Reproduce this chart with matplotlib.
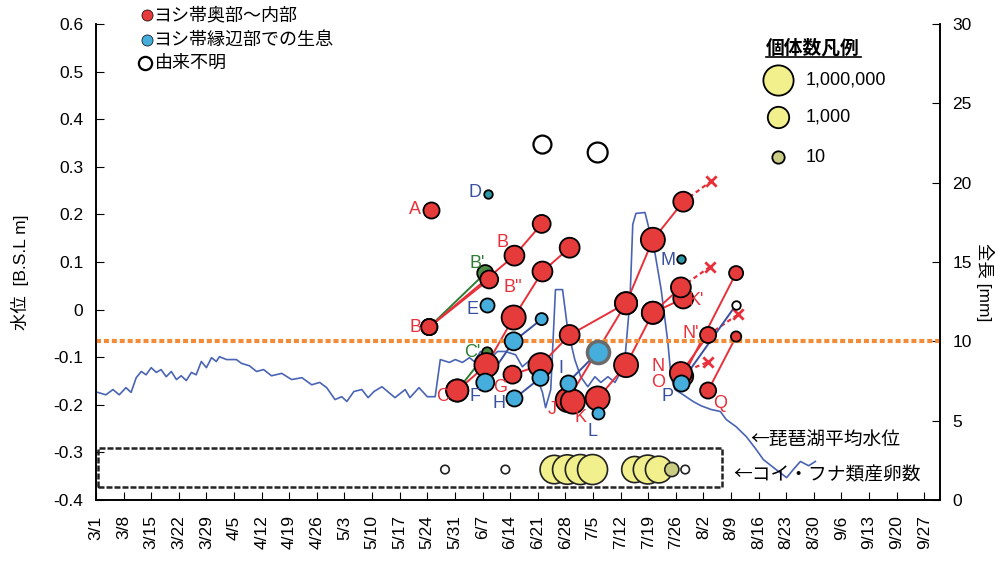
import matplotlib.pyplot as plt
import numpy as np
from matplotlib.patches import Rectangle
from matplotlib.lines import Line2D

plt.rcParams['font.family'] = ['Liberation Sans', 'Noto Sans CJK JP', 'DejaVu Sans']
JP = ['Noto Sans CJK JP', 'DejaVu Sans']

# 日付は 3/1 からの経過日数
week_labels = ['3/1', '3/8', '3/15', '3/22', '3/29', '4/5', '4/12', '4/19', '4/26',
               '5/3', '5/10', '5/17', '5/24', '5/31', '6/7', '6/14', '6/21', '6/28',
               '7/5', '7/12', '7/19', '7/26', '8/2', '8/9', '8/16', '8/23', '8/30',
               '9/6', '9/13', '9/20', '9/27']
week_days = [7 * i for i in range(len(week_labels))]

# 琵琶湖平均水位 [B.S.L m]
level_days = [0.5, 2.5, 4.3, 5.9, 7.6, 8.9, 10.2, 11.5, 12.7, 14.0, 15.3, 16.5, 17.8,
              19.1, 20.4, 21.6, 22.9, 24.2, 25.4, 26.7, 28.0, 29.3, 30.5, 31.3, 33.1,
              35.6, 36.9, 38.9, 40.7, 42.5, 44.5, 47.1, 49.6, 52.2, 54.7, 56.7, 58.5,
              60.6, 62.3, 63.6, 65.4, 67.4, 69.0, 70.5, 72.5, 75.8, 78.4, 79.6, 81.9,
              84.0, 86.0, 87.3, 89.6, 91.1, 92.9, 94.7, 95.9, 97.5, 99.7, 101.8, 103.8,
              106.4, 108.1, 110.2, 112.0, 113.2, 114.0, 115.3, 116.5, 118.3, 119.6,
              121.4, 122.9, 124.7, 126.5, 128.0, 129.8, 131.6, 133.1, 134.1, 135.4,
              136.1, 136.9, 139.2, 141.7, 143.3, 145.0, 145.8, 146.8, 148.9, 151.4,
              153.4, 156.0, 158.3, 159.8, 162.3, 164.9, 167.4, 169.2, 171.8, 175.1,
              176.8, 178.6, 180.7, 182.4]
level_values = [-0.174, -0.179, -0.168, -0.179, -0.164, -0.174, -0.143, -0.130, -0.137,
                -0.122, -0.132, -0.126, -0.141, -0.130, -0.147, -0.139, -0.149, -0.132,
                -0.137, -0.109, -0.122, -0.101, -0.109, -0.099, -0.105, -0.105, -0.113,
                -0.118, -0.130, -0.126, -0.139, -0.134, -0.147, -0.143, -0.158, -0.153,
                -0.164, -0.189, -0.183, -0.193, -0.172, -0.168, -0.185, -0.172, -0.162,
                -0.185, -0.168, -0.185, -0.164, -0.183, -0.183, -0.105, -0.111, -0.105,
                -0.111, -0.101, -0.109, -0.088, -0.105, -0.088, -0.088, -0.095, -0.120,
                -0.105, -0.147, -0.174, -0.206, -0.168, 0.042, 0.042, -0.042, -0.105,
                -0.141, -0.162, -0.141, -0.153, -0.141, -0.153, -0.130, -0.105, 0.021,
                0.179, 0.202, 0.204, 0.120, 0.042, -0.069, -0.141, -0.168, -0.179,
                -0.193, -0.202, -0.210, -0.214, -0.231, -0.246, -0.267, -0.294, -0.315,
                -0.332, -0.353, -0.336, -0.319, -0.328, -0.319]

# 全長 [mm] と個体数 ── ヨシ帯奥部～内部
A_days, A_len, A_n = [85.0], [18.3], [50]
B_days, B_len, B_n = [84.5, 106.1, 113.0], [10.9, 15.4, 17.4], [50, 400, 130]
B2_days, B2_len, B2_n = [84.5, 99.7], [10.9, 13.9], [50, 130]
C_days = [91.6, 99.0, 105.9, 113.2, 120.1]
C_len = [6.9, 8.5, 11.5, 14.4, 15.9]
C_n = [1600, 6300, 6300, 400, 400]
G_days = [105.6, 112.7, 120.1, 134.4, 141.2, 148.9]
G_len = [7.9, 8.5, 10.4, 12.4, 16.4, 18.8]
G_n = [130, 6300, 400, 1600, 6300, 400]
J_days, J_len, J_n = [119.6, 134.4], [6.3, 12.4], [6300, 1600]
K_days = [120.9, 127.2, 134.4, 141.2, 148.3]
K_len = [6.2, 6.4, 8.5, 11.8, 13.4]
K_n = [6300, 6300, 6300, 1600, 400]
K1_days, K1_len, K1_n = [141.2, 148.9], [11.8, 12.7], [1600, 400]
N_days, N_len, N_n = [148.3, 155.2], [8.0, 10.4], [1600, 50]
O_days, O_len, O_n = [148.9, 162.3], [7.8, 14.3], [400, 20]
Q_days, Q_len, Q_n = [155.2, 162.3], [6.9, 10.3], [50, 5]

# ヨシ帯縁辺部での生息
D_days, D_len, D_n = [99.5], [19.3], [3]
E_days, E_len, E_n = [99.2], [12.3], [20]
F_days, F_len, F_n = [98.7, 105.9, 113.0], [7.4, 10.0, 11.4], [130, 130, 9]
H_days, H_len, H_n = [106.1, 112.7], [6.4, 7.7], [50, 50]
I_days, I_len, I_n = [119.6, 127.2], [7.4, 9.3], [50, 1600]
L_days, L_len, L_n = [127.2], [5.5], [9]
M_days, M_len, M_n = [148.3], [15.2], [3]
P_days, P_len, P_n = [148.3, 162.3], [7.4, 12.3], [50, 3]

# B', C' (緑)
B1_days, B1_len, B1_n = [84.5, 98.7], [10.9, 14.3], [50, 50]
C1_days, C1_len, C1_n = [91.6, 99.2], [6.9, 9.3], [1600, 5]

# 由来不明
unk_days, unk_len, unk_n = [113.2, 127.2], [22.4, 21.9], [130, 400]

# 消失 (×)
lost_from_days = [148.9, 148.3, 155.2, 148.3]
lost_from_len = [18.8, 13.4, 10.4, 8.0]
lost_days = [156.0, 155.7, 162.8, 155.2]
lost_len = [20.1, 14.7, 11.7, 8.7]

# コイ・フナ類産卵数
egg_days = [88.5, 103.8, 116.2, 119.5, 122.8, 125.9, 136.6, 139.9, 142.7, 146.0, 149.4]
egg_counts = [3, 3, 2e5, 5e5, 8e5, 8e5, 3e4, 3e5, 5e4, 20, 3]
egg_level = -0.336

legend_counts = [1e6, 1e3, 10]
legend_texts = ['1,000,000', '1,000', '10']

RED = '#E63B3B'
BLUE = '#45AEDC'
TEAL = '#2E98A6'
GREEN = '#4F8A45'
LRED = '#E8303A'
LBLUE = '#3A50A0'
LGREEN = '#2E7D32'


def area(n):
    return 79 * np.log10(np.asarray(n, dtype=float))


def egg_color(n):
    if n >= 1000:
        return '#F2F08C'
    if n >= 10:
        return '#C9CC82'
    return 'white'


fig = plt.figure(figsize=(10.03, 5.63), dpi=100)
ax = fig.add_axes([0.0957, 0.1119, 0.8415, 0.8455])
ax2 = ax.twinx()

ax.set_xlim(0, 214)
ax.set_ylim(-0.4, 0.6)
ax2.set_ylim(0, 30)
ax.set_yticks(np.arange(-0.4, 0.61, 0.1))
ax.set_yticklabels(['-0.4', '-0.3', '-0.2', '-0.1', '0', '0.1', '0.2', '0.3', '0.4', '0.5', '0.6'])
ax2.set_yticks([0, 5, 10, 15, 20, 25, 30])
ax.set_xticks(week_days)
ax.set_xticklabels(week_labels, rotation=90, fontsize=12.5)
ax.tick_params(axis='x', direction='in', length=6, pad=11)
ax.tick_params(axis='y', direction='in', length=6, pad=9, labelsize=12.5)
ax2.tick_params(axis='y', direction='in', length=6, pad=9, labelsize=12.5)
for a in (ax, ax2):
    a.spines['top'].set_visible(False)
    for s in ('left', 'right', 'bottom'):
        a.spines[s].set_linewidth(1.2)

# 水位
ax.plot(level_days, level_values, color='#4A64B4', lw=1.2, zorder=2)

# 産卵数
box = Rectangle((0.6, -0.372), 158.0, 0.082, fill=False, edgecolor='#222222',
                lw=1.8, linestyle=(0, (2.4, 0.8)), zorder=3)
ax.add_patch(box)
ax.scatter(egg_days, [egg_level] * len(egg_days), s=area(egg_counts),
           c=[egg_color(n) for n in egg_counts], edgecolors='#222222', linewidths=1.2, zorder=4)

ax.text(166.0, -0.272, '←琵琶湖平均水位', fontsize=13.5, va='center', family=JP)
ax.text(161.5, -0.347, '←コイ・フナ類産卵数', fontsize=13.5, va='center', family=JP)

# 全長 10 mm
ax2.axhline(10, color='#F28C38', lw=3, linestyle=(0, (1.2, 0.7)), zorder=2.5)


def cohort(days, lens, counts, face, line, edge='black', elw=1.3):
    if len(days) > 1:
        ax2.plot(days, lens, color=line, lw=1.4, zorder=2)
    ax2.scatter(days, lens, s=area(counts), c=face, edgecolors=edge, linewidths=elw, zorder=3)


# 消失までの点線と ×
for x0, y0, x1, y1 in zip(lost_from_days, lost_from_len, lost_days, lost_len):
    ax2.plot([x0, x1], [y0, y1], color=LRED, lw=1.6, linestyle=(0, (2, 1.5)), zorder=2)
ax2.scatter(lost_days, lost_len, marker='x', s=55, color=LRED, linewidths=2, zorder=3)

cohort(B1_days, B1_len, B1_n, GREEN, LGREEN)
cohort(C1_days, C1_len, C1_n, GREEN, LGREEN)
cohort(B2_days, B2_len, B2_n, RED, LRED)
cohort(B_days, B_len, B_n, RED, LRED)
cohort(A_days, A_len, A_n, RED, LRED)
cohort(C_days, C_len, C_n, RED, LRED)
cohort(J_days, J_len, J_n, RED, LRED)
cohort(G_days, G_len, G_n, RED, LRED)
cohort(K1_days, K1_len, K1_n, RED, LRED)
cohort(K_days, K_len, K_n, RED, LRED)
cohort(O_days, O_len, O_n, RED, LRED)
cohort(N_days, N_len, N_n, RED, LRED)
cohort(Q_days, Q_len, Q_n, RED, LRED)

cohort(D_days, D_len, D_n, TEAL, LBLUE)
cohort(E_days, E_len, E_n, BLUE, LBLUE)
cohort(F_days, F_len, F_n, BLUE, LBLUE)
cohort(H_days, H_len, H_n, BLUE, LBLUE)
ax2.plot(I_days, I_len, color=LBLUE, lw=1.4, zorder=2)
ax2.scatter(I_days[:1], I_len[:1], s=area(I_n[:1]), c=BLUE, edgecolors='black', linewidths=1.3, zorder=3)
ax2.scatter(I_days[1:], I_len[1:], s=area(I_n[1:]), c=BLUE, edgecolors='#6a6a6a', linewidths=2.5, zorder=3)
cohort(L_days, L_len, L_n, BLUE, LBLUE)
cohort(M_days, M_len, M_n, TEAL, LBLUE)
ax2.plot(P_days, P_len, color=LBLUE, lw=1.4, zorder=2)
ax2.scatter(P_days[:1], P_len[:1], s=area(P_n[:1]), c=BLUE, edgecolors='black', linewidths=1.3, zorder=3)
ax2.scatter(P_days[1:], P_len[1:], s=area(P_n[1:]), c='white', edgecolors='black', linewidths=1.3, zorder=3)

ax2.scatter(unk_days, unk_len, s=area(unk_n), c='white', edgecolors='black', linewidths=1.6, zorder=3)

# 群の記号
group_labels = [
    ('A', 81.0, 18.3, LRED), ('B', 80.9, 10.9, LRED), ('B', 103.1, 16.2, LRED),
    ("B'", 96.7, 14.9, LGREEN), ("B''", 105.8, 13.4, LRED), ('C', 87.8, 6.5, LRED),
    ("C'", 95.4, 9.3, LGREEN), ('D', 96.2, 19.4, LBLUE), ('E', 95.4, 12.0, LBLUE),
    ('F', 96.2, 6.5, LBLUE), ('G', 102.5, 7.1, LRED), ('H', 102.3, 6.1, LBLUE),
    ('I', 117.8, 8.3, LBLUE), ('J', 115.8, 5.7, LRED), ('K', 122.9, 5.2, LRED),
    ('L', 126.0, 4.3, LBLUE), ('M', 145.0, 15.1, LBLUE), ("K'", 152.2, 12.6, LRED),
    ("N'", 150.9, 10.5, LRED), ('N', 142.5, 8.4, LRED), ('O', 142.5, 7.4, LRED),
    ('P', 145.0, 6.5, LBLUE), ('Q', 158.3, 6.1, LRED),
]
for t, x, y, c in group_labels:
    ax2.text(x, y, t, color=c, fontsize=13, ha='center', va='center', zorder=4)

# 軸ラベル
fig.text(20 / 1003, 1 - 272 / 563, '水位  [B.S.L m]', rotation=90, fontsize=12.5,
         ha='center', va='center')
fig.text(985 / 1003, 1 - 282 / 563, '全長 [mm]', rotation=270, fontsize=12.5,
         ha='center', va='center')


# 凡例 (左上)
def fig_marker(x, y, ms, face, lw=1.2):
    fig.add_artist(Line2D([x / 1003], [1 - y / 563], marker='o', ms=ms, mfc=face,
                          mec='black', mew=lw, transform=fig.transFigure))


fig_marker(147, 15, 8, RED, 0.5)
fig_marker(147, 40, 8, BLUE, 0.5)
fig_marker(145, 63, 9.5, 'white', 1.6)
fig.text(153 / 1003, 1 - 15 / 563, 'ヨシ帯奥部～内部', fontsize=13, va='center', family=JP)
fig.text(153 / 1003, 1 - 40 / 563, 'ヨシ帯縁辺部での生息', fontsize=13, va='center', family=JP)
fig.text(155 / 1003, 1 - 63 / 563, '由来不明', fontsize=13, va='center', family=JP)

# 凡例 (個体数)
fig.text(766 / 1003, 1 - 48 / 563, '個体数凡例', fontsize=13.5, weight='bold', va='center', family=JP)
fig.add_artist(Line2D([766 / 1003, 861 / 1003], [1 - 57 / 563, 1 - 57 / 563], color='black',
                      lw=1.2, transform=fig.transFigure))
for n, t, y in zip(legend_counts, legend_texts, [80, 117, 157]):
    fig_marker(778, y, np.sqrt(area(n)), egg_color(n), 1.3)
    fig.text(806 / 1003, 1 - y / 563, t, fontsize=13, va='center')

fig.savefig('out.png', dpi=100)
